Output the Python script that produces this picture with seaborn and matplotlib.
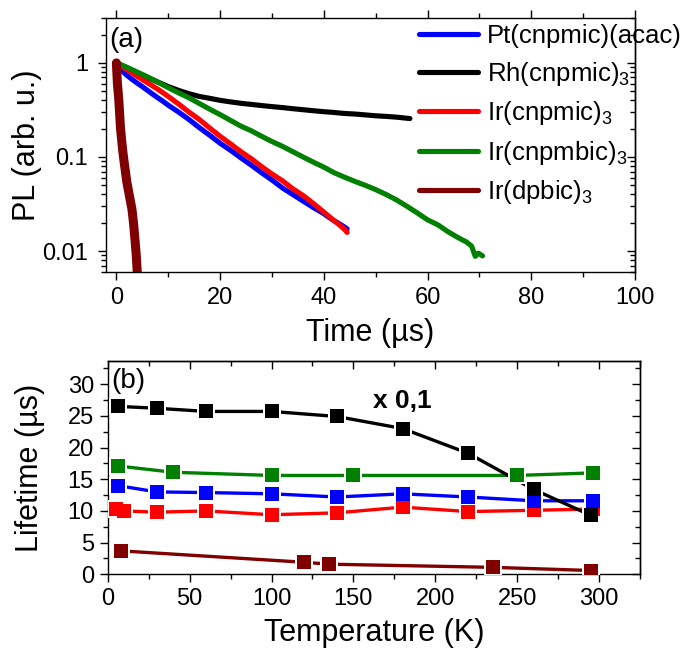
import matplotlib
matplotlib.use("Agg")
import matplotlib.pyplot as plt
import seaborn as sns
from matplotlib.ticker import MultipleLocator, FixedLocator, FixedFormatter, NullFormatter, LogLocator

# ---------------- (a) PL decay transients ----------------
pt_t = [0, 0.5, 1, 2, 3, 4, 5, 6, 7, 8, 9, 10, 12, 14, 16, 18, 20, 22, 24, 26, 28, 30,
        32, 34, 36, 38, 40, 41, 42, 43, 44, 44.5]
pt_pl = [1.0, 0.9, 0.83, 0.74, 0.67, 0.61, 0.56, 0.51, 0.465, 0.425, 0.39, 0.355, 0.30,
         0.25, 0.205, 0.17, 0.14, 0.118, 0.098, 0.082, 0.068, 0.057, 0.047, 0.040, 0.034,
         0.029, 0.025, 0.0228, 0.021, 0.0195, 0.018, 0.0172]

rh_t = [0, 1, 2, 3, 4, 6, 8, 10, 12, 14, 16, 18, 20, 22, 24, 26, 28, 30, 32, 34, 36, 38,
        40, 42, 44, 46, 48, 50, 52, 54, 56.6]
rh_pl = [1.0, 0.94, 0.88, 0.83, 0.78, 0.70, 0.625, 0.56, 0.51, 0.47, 0.44, 0.42, 0.40,
         0.385, 0.372, 0.362, 0.352, 0.343, 0.335, 0.326, 0.318, 0.31, 0.303, 0.297, 0.29,
         0.286, 0.28, 0.274, 0.27, 0.265, 0.256]

ir_t = [0, 1, 2, 4, 6, 8, 10, 12, 14, 16, 18, 20, 22, 24, 26, 28, 30, 32, 34, 36, 38, 40,
        42, 43, 44, 44.5]
ir_pl = [1.0, 0.92, 0.85, 0.72, 0.615, 0.525, 0.44, 0.365, 0.30, 0.25, 0.203, 0.166,
         0.138, 0.114, 0.096, 0.079, 0.066, 0.056, 0.046, 0.039, 0.032, 0.026, 0.021,
         0.019, 0.017, 0.0158]

irb_t = [0, 1, 2, 4, 6, 8, 10, 12, 14, 16, 18, 20, 22, 24, 26, 28, 30, 32, 34, 36, 38, 40,
         42, 44, 46, 48, 50, 52, 54, 56, 58, 60, 62, 64, 66, 67.5, 68.5, 69.2, 69.8, 70.6]
irb_pl = [1.0, 0.95, 0.9, 0.8, 0.71, 0.625, 0.545, 0.48, 0.425, 0.37, 0.322, 0.282, 0.245,
          0.213, 0.19, 0.166, 0.146, 0.13, 0.114, 0.1, 0.088, 0.078, 0.068, 0.061, 0.055,
          0.050, 0.045, 0.040, 0.035, 0.030, 0.0255, 0.0215, 0.019, 0.016, 0.0138, 0.0125,
          0.0113, 0.0088, 0.0095, 0.0089]

dp_t = [0, 0.2, 0.45, 0.8, 1.2, 1.5, 2.0, 2.5, 3.0, 3.3, 3.6, 3.85, 4.0, 4.2]
dp_pl = [1.0, 0.6, 0.42, 0.2, 0.12, 0.088, 0.055, 0.039, 0.028, 0.02, 0.013, 0.0088,
         0.0063, 0.004]

pl_ticks = [0.01, 0.1, 1]
pl_tick_labels = ["0.01", "0.1", "1"]

# ---------------- (b) lifetime vs temperature ----------------
rh_T = [6, 30, 60, 100, 140, 180, 220, 260, 295]
rh_tau = [26.5, 26.2, 25.7, 25.7, 24.9, 23.0, 19.1, 13.4, 9.3]   # scaled x 0,1

irb_T = [6, 40, 100, 150, 250, 296]
irb_tau = [17.1, 16.1, 15.6, 15.6, 15.6, 16.0]

pt_T = [6, 30, 60, 100, 140, 180, 220, 260, 296]
pt_tau = [14.0, 13.0, 12.9, 12.7, 12.2, 12.7, 12.2, 11.6, 11.6]

ir_T = [5, 10, 30, 60, 100, 140, 180, 220, 260, 296]
ir_tau = [10.3, 10.0, 9.8, 10.0, 9.4, 9.7, 10.6, 9.9, 10.1, 10.3]

dp_T = [8, 120, 135, 235, 295]
dp_tau = [3.7, 1.9, 1.6, 1.1, 0.6]

names = ["Pt(cnpmic)(acac)", "Rh(cnpmic)$_3$", "Ir(cnpmic)$_3$",
         "Ir(cnpmbic)$_3$", "Ir(dpbic)$_3$"]
colors = ["#0000FF", "#000000", "#FF0000", "#008000", "#800000"]

sns.set_theme(style="ticks")
plt.rcParams["font.family"] = ["Liberation Sans", "DejaVu Sans"]
plt.rcParams["mathtext.fontset"] = "custom"
plt.rcParams["mathtext.rm"] = "Liberation Sans"
plt.rcParams["mathtext.it"] = "Liberation Sans:italic"
plt.rcParams["mathtext.bf"] = "Liberation Sans:bold"
plt.rcParams["axes.linewidth"] = 1.0
plt.rcParams["axes.edgecolor"] = "black"
plt.rcParams["text.color"] = "black"
plt.rcParams["axes.labelcolor"] = "black"
plt.rcParams["xtick.color"] = "black"
plt.rcParams["ytick.color"] = "black"
plt.rcParams["xtick.labelcolor"] = "black"
plt.rcParams["ytick.labelcolor"] = "black"

TICK_FS = 17
LABEL_FS = 22

fig = plt.figure(figsize=(6.87, 6.51), dpi=100)
ax1 = fig.add_axes([0.1543, 0.5822, 0.770, 0.3902])
ax2 = fig.add_axes([0.1568, 0.1178, 0.7748, 0.3281])

# ---- panel (a)
series_a = [(pt_t, pt_pl), (rh_t, rh_pl), (ir_t, ir_pl), (irb_t, irb_pl), (dp_t, dp_pl)]
widths_a = [3.7, 3.7, 3.7, 3.7, 6.5]
for (t, pl), name, c, lw in zip(series_a, names, colors, widths_a):
    sns.lineplot(x=t, y=pl, ax=ax1, color=c, lw=lw, label=name,
                 solid_capstyle="round", estimator=None)

ax1.set_yscale("log")
ax1.set_xlim(-2, 100)
ax1.set_ylim(0.006, 3.0)
ax1.xaxis.set_major_locator(MultipleLocator(20))
ax1.xaxis.set_minor_locator(MultipleLocator(10))
ax1.yaxis.set_major_locator(FixedLocator(pl_ticks))
ax1.yaxis.set_major_formatter(FixedFormatter(pl_tick_labels))
ax1.yaxis.set_minor_locator(LogLocator(base=10, subs=range(2, 10)))
ax1.yaxis.set_minor_formatter(NullFormatter())
ax1.tick_params(axis="x", which="both", direction="out", top=True, bottom=True,
                labelsize=TICK_FS, pad=5)
ax1.tick_params(axis="y", which="both", direction="out", right=False,
                labelsize=TICK_FS, pad=7)
ax1.tick_params(which="major", length=6, width=1.0)
ax1.tick_params(which="minor", length=3.5, width=1.0)
sec_a = ax1.secondary_yaxis("right")
sec_a.tick_params(which="both", direction="in", labelright=False)
sec_a.tick_params(which="major", length=6, width=1.0)
sec_a.tick_params(which="minor", length=3.5, width=1.0)
sec_a.yaxis.set_major_locator(FixedLocator(pl_ticks))
sec_a.yaxis.set_minor_locator(LogLocator(base=10, subs=range(2, 10)))
sec_a.yaxis.set_minor_formatter(NullFormatter())

ax1.set_xlabel("Time (\u00b5s)", fontsize=LABEL_FS)
ax1.set_ylabel("PL (arb. u.)", fontsize=LABEL_FS)
ax1.xaxis.set_label_coords(0.5, -0.18)
ax1.yaxis.set_label_coords(-0.121, 0.5)
ax1.text(0.006, 0.913, "(a)", transform=ax1.transAxes, fontsize=20,
         ha="left", va="center")

leg = ax1.legend(loc="upper left", bbox_to_anchor=(419 / 687, 1 - 24 / 651),
                 bbox_transform=fig.transFigure, frameon=False, fontsize=18.5,
                 handlelength=2.3, handletextpad=0.34, labelspacing=0.45,
                 borderpad=0, borderaxespad=0)
for h in leg.legend_handles:
    h.set_linewidth(3.7)

# ---- panel (b)
series_b = [(ir_T, ir_tau, colors[2]), (pt_T, pt_tau, colors[0]),
            (irb_T, irb_tau, colors[3]), (dp_T, dp_tau, colors[4]),
            (rh_T, rh_tau, colors[1])]
for T, tau, c in series_b:
    sns.lineplot(x=T, y=tau, ax=ax2, color=c, lw=2.4, estimator=None, zorder=2)
for T, tau, c in series_b:
    sns.scatterplot(x=T, y=tau, ax=ax2, color="white", marker="s", s=175,
                    linewidth=0, zorder=3)
for T, tau, c in series_b:
    sns.scatterplot(x=T, y=tau, ax=ax2, color=c, marker="s", s=92,
                    linewidth=0, zorder=4)

ax2.set_xlim(0, 325)
ax2.set_ylim(0, 33.7)
ax2.xaxis.set_major_locator(MultipleLocator(50))
ax2.xaxis.set_minor_locator(MultipleLocator(25))
ax2.yaxis.set_major_locator(MultipleLocator(5))
ax2.yaxis.set_minor_locator(MultipleLocator(2.5))
ax2.tick_params(axis="x", which="both", direction="out", top=False,
                labelsize=TICK_FS, pad=4)
ax2.tick_params(axis="y", which="both", direction="out", right=False,
                labelsize=TICK_FS, pad=4)
ax2.tick_params(which="major", length=6, width=1.0)
ax2.tick_params(which="minor", length=3.5, width=1.0)
sec_bx = ax2.secondary_xaxis("top")
sec_bx.xaxis.set_major_locator(MultipleLocator(50))
sec_bx.xaxis.set_minor_locator(MultipleLocator(25))
sec_bx.tick_params(which="both", direction="in", labeltop=False)
sec_bx.tick_params(which="major", length=6, width=1.0)
sec_bx.tick_params(which="minor", length=3.5, width=1.0)
sec_by = ax2.secondary_yaxis("right")
sec_by.yaxis.set_major_locator(MultipleLocator(5))
sec_by.yaxis.set_minor_locator(MultipleLocator(2.5))
sec_by.tick_params(which="both", direction="in", labelright=False)
sec_by.tick_params(which="major", length=6, width=1.0)
sec_by.tick_params(which="minor", length=3.5, width=1.0)

ax2.set_xlabel("Temperature (K)", fontsize=LABEL_FS)
ax2.set_ylabel("Lifetime (\u00b5s)", fontsize=LABEL_FS)
ax2.xaxis.set_label_coords(0.5, -0.205)
ax2.yaxis.set_label_coords(-0.118, 0.5)
ax2.text(0.006, 0.903, "(b)", transform=ax2.transAxes, fontsize=20,
         ha="left", va="center")
ax2.text(162, 27.3, "x 0,1", fontsize=19, fontweight="bold", ha="left", va="center")

for ax in (ax1, ax2):
    for sp in ax.spines.values():
        sp.set_visible(True)
        sp.set_color("black")
        sp.set_linewidth(1.0)

fig.savefig("out.png", dpi=100)
